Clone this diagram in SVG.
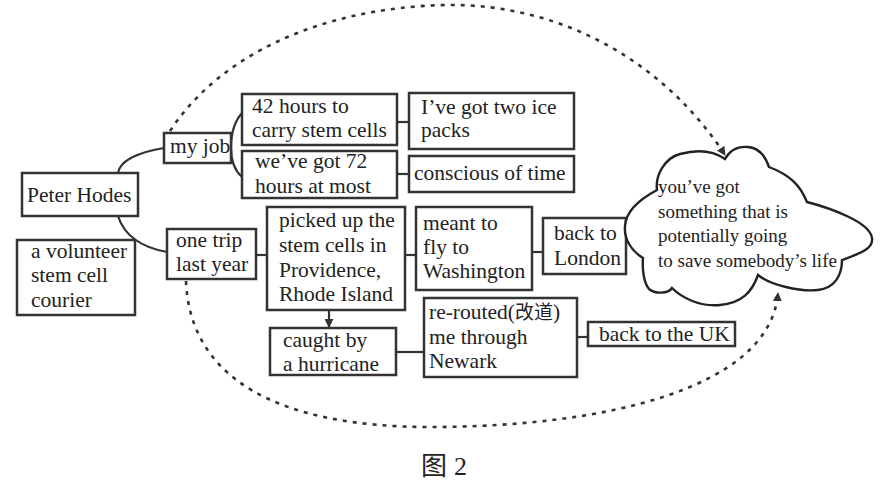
<svg xmlns="http://www.w3.org/2000/svg" width="882" height="493" viewBox="0 0 882 493" font-family="Liberation Serif, DejaVu Serif, serif">
<style>
.box{fill:#fff;stroke:#333;stroke-width:2.5}
.ln{fill:none;stroke:#333;stroke-width:2.2}
.dot{fill:none;stroke:#333;stroke-width:2.6;stroke-dasharray:4 6}
.t text{font-size:21.5px;fill:#222}
.t text.cl{font-size:19px}
</style>
<defs>
<marker id="ah" viewBox="0 0 10 10" refX="9" refY="5" markerWidth="9" markerHeight="9" markerUnits="userSpaceOnUse" orient="auto">
<path d="M0,0 L10,5 L0,10 Z" fill="#333"/>
</marker>
</defs>
<rect width="882" height="493" fill="#fff"/>
<g id="connectors">
<path class="ln" d="M118,173 C120,160 140,152 164,148"/>
<path class="ln" d="M118,216 C125,238 145,248 167,252"/>
<path class="ln" d="M242,113 C234,122 231,135 231,148 C231,160 234,170 242,177"/>
<path class="ln" d="M397,122 H409"/>
<path class="ln" d="M397,174 H409"/>
<path class="ln" d="M256,255 H267"/>
<path class="ln" d="M405,255 H416"/>
<path class="ln" d="M532,252 H543"/>
<path class="ln" d="M329,310 V327" marker-end="url(#ah)"/>
<path class="ln" d="M396,352 H424"/>
<path class="ln" d="M577,337 H588"/>
<path class="dot" d="M170,131 C220,55 320,8 445,5 C570,3 670,70 725,155" marker-end="url(#ah)"/>
<path class="dot" d="M186,281 C190,380 280,427 430,427 C600,427 770,390 778,293" marker-end="url(#ah)"/>
</g>
<g id="peter" class="t"><rect class="box" x="22" y="173" width="116" height="43"/><text x="27" y="202">Peter Hodes</text></g>
<g id="volunteer" class="t"><rect class="box" x="17" y="240" width="118" height="75"/><text x="31" y="258">a volunteer</text><text x="31" y="282">stem cell</text><text x="31" y="307">courier</text></g>
<g id="myjob" class="t"><rect class="box" x="164" y="133" width="67" height="30"/><text x="170" y="153">my job</text></g>
<g id="hours42" class="t"><rect class="box" x="242" y="94" width="155" height="51"/><text x="252" y="113">42 hours to</text><text x="252" y="137">carry stem cells</text></g>
<g id="hours72" class="t"><rect class="box" x="242" y="151" width="155" height="47"/><text x="255" y="168">we’ve got 72</text><text x="255" y="193">hours at most</text></g>
<g id="icepacks" class="t"><rect class="box" x="409" y="93" width="165" height="56"/><text x="421" y="114">I’ve got two ice</text><text x="421" y="137">packs</text></g>
<g id="conscious" class="t"><rect class="box" x="409" y="156" width="165" height="36"/><text x="414" y="180">conscious of time</text></g>
<g id="onetrip" class="t"><rect class="box" x="167" y="229" width="89" height="50"/><text x="176" y="247">one trip</text><text x="176" y="271">last year</text></g>
<g id="pickedup" class="t"><rect class="box" x="267" y="207" width="138" height="103"/><text x="279" y="227">picked up the</text><text x="279" y="252">stem cells in</text><text x="279" y="277">Providence,</text><text x="279" y="301">Rhode Island</text></g>
<g id="meant" class="t"><rect class="box" x="416" y="207" width="116" height="83"/><text x="423" y="230">meant to</text><text x="423" y="254">fly to</text><text x="423" y="278">Washington</text></g>
<g id="london" class="t"><rect class="box" x="543" y="218" width="83" height="56"/><text x="554" y="240">back to</text><text x="554" y="265">London</text></g>
<g id="hurricane" class="t"><rect class="box" x="270" y="328" width="126" height="47"/><text x="283" y="347">caught by</text><text x="283" y="371">a hurricane</text></g>
<g id="rerouted" class="t"><rect class="box" x="424" y="298" width="153" height="79"/><text x="429" y="319">re-routed(<tspan font-family="Noto Sans CJK SC, sans-serif" font-size="19">改道</tspan>)</text><text x="429" y="344">me through</text><text x="429" y="368">Newark</text></g>
<g id="uk" class="t"><rect class="box" x="588" y="322" width="147" height="24"/><text x="599" y="341">back to the UK</text></g>
<g id="cloud" class="t">
<path fill="#fff" stroke="#222" stroke-width="2.4" d="M657,190 C655,175 665,158 680,154 C695,150 712,150 725,159 C730,150 738,146 748,147 C760,148 766,158 769,167 C790,175 800,185 807,202 C830,208 870,222 872,238 C874,250 855,255 842,260 C842,275 835,288 818,290 C800,292 770,285 758,275 C752,292 742,303 720,305 C700,307 682,298 672,288 C668,294 655,294 649,289 C644,283 642,270 643,258 C630,250 624,238 625,226 C626,210 642,198 657,190 Z"/>
<text class="cl" x="658" y="193">you’ve got</text>
<text class="cl" x="658" y="218">something that is</text>
<text class="cl" x="658" y="242">potentially going</text>
<text class="cl" x="658" y="267">to save somebody’s life</text>
</g>
<g id="caption" class="t"><text x="421" y="475" font-family="Noto Sans CJK SC, serif" style="font-size:26px">图</text><text x="454" y="475" style="font-size:26px">2</text></g>
</svg>
